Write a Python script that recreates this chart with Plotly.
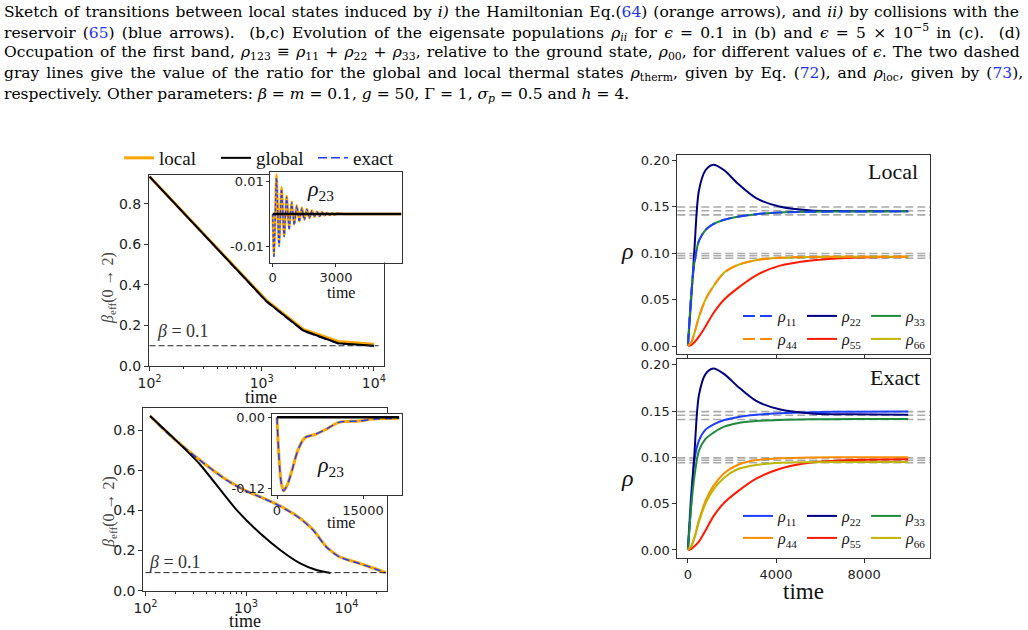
import plotly.graph_objects as go

W, H = 1028, 630

# ---------------- data ----------------
# (a, top-left) eps = 0.1 : effective inverse temperature vs time
t_a = [100, 1110, 2350, 4800, 10000]
beta_local_a = [0.935, 0.322, 0.180, 0.121, 0.107]
beta_global_a = [0.935, 0.318, 0.175, 0.112, 0.100]
beta_exact_a = [0.935, 0.315, 0.172, 0.110, 0.098]
beta_ref_t_a = [100, 11000]
beta_ref_a = [0.1, 0.1]

# inset of (a): rho23 vs time
t_in_a = [0, 60, 180, 300, 420, 540, 660, 780, 900, 1020, 1140, 1260, 1380, 1500,
          1620, 1740, 1860, 1980, 2100, 2220, 2340, 2460, 2580, 2700, 2820, 2940,
          3060, 3400, 4000, 6100]
rho23_local_a = [0, -0.0124, 0.0122, -0.0095, 0.0082, -0.0068, 0.0056, -0.0046, 0.0038,
                 -0.0032, 0.0027, -0.0023, 0.0020, -0.0017, 0.0015, -0.0013, 0.0011,
                 -0.0009, 0.0008, -0.0007, 0.0006, -0.0005, 0.0004, -0.0003, 0.00025,
                 -0.0002, 0.00015, 0.0, 0.0, 0.0]
rho23_exact_a = [0, -0.0134, 0.0110, -0.0100, 0.0076, -0.0070, 0.0052, -0.0048, 0.0035,
                 -0.0033, 0.0025, -0.0024, 0.0018, -0.0018, 0.0014, -0.0013, 0.0010,
                 -0.0009, 0.0007, -0.0007, 0.0005, -0.0005, 0.0004, -0.0003, 0.0002,
                 -0.0002, 0.00015, 0.0, 0.0, 0.0]
t_in_global_a = [0, 6100]
rho23_global_a = [0.0, 0.0]

# (b, bottom-left) eps = 5e-5
t_b = [111, 162, 347, 646, 977, 1380, 2190, 3467, 4677, 6310, 8511, 13490, 19950, 24550]
beta_local_b = [0.87, 0.790, 0.651, 0.551, 0.500, 0.468, 0.422, 0.360, 0.302, 0.219,
                0.169, 0.136, 0.107, 0.090]
beta_exact_b = [0.87, 0.788, 0.650, 0.549, 0.499, 0.467, 0.421, 0.359, 0.300, 0.217,
                0.168, 0.135, 0.106, 0.089]
t_bg = [111, 200, 347, 813, 1380, 2188, 3467, 5012, 6918]
beta_global_b = [0.87, 0.750, 0.630, 0.400, 0.286, 0.203, 0.136, 0.103, 0.088]
beta_ref_t_b = [100, 25000]
beta_ref_b = [0.09, 0.09]

# inset of (b)
t_in_b = [0, 300, 700, 1150, 1800, 2600, 3700, 4900, 6600, 8400, 10800, 14300, 16700, 21300]
rho23_local_b = [0, -0.060, -0.108, -0.124, -0.114, -0.090, -0.054, -0.034, -0.029,
                 -0.021, -0.0085, -0.0063, -0.0030, -0.0017]
rho23_exact_b = rho23_local_b
t_in_global_b = [0, 21300]
rho23_global_b = [0.0, 0.0]

# (c, right) populations rho_ii vs time
t_r = [0, 150, 300, 500, 800, 1150, 1650, 2250, 3100, 4150, 5600, 7500, 10000]
loc_rho11 = [0, 0.055, 0.090, 0.113, 0.1247, 0.131, 0.1357, 0.139, 0.1418, 0.1435, 0.1443, 0.1447, 0.1448]
loc_rho22 = [0, 0.050, 0.105, 0.167, 0.189, 0.195, 0.189, 0.175, 0.159, 0.150, 0.1458, 0.1450, 0.1448]
loc_rho33 = loc_rho11
loc_rho44 = [0, 0.004, 0.014, 0.031, 0.050, 0.064, 0.079, 0.087, 0.0923, 0.0948, 0.0958, 0.0960, 0.0960]
loc_rho55 = [0, 0.001, 0.004, 0.010, 0.021, 0.035, 0.050, 0.062, 0.076, 0.0862, 0.092, 0.095, 0.096]
loc_rho66 = loc_rho44

ex_rho11 = [0, 0.060, 0.098, 0.118, 0.130, 0.1355, 0.1404, 0.1435, 0.146, 0.1477, 0.1489, 0.1494, 0.1495]
ex_rho22 = [0, 0.050, 0.105, 0.167, 0.190, 0.196, 0.190, 0.177, 0.161, 0.152, 0.1475, 0.1465, 0.1460]
ex_rho33 = [0, 0.047, 0.080, 0.107, 0.120, 0.1265, 0.1332, 0.137, 0.1393, 0.1405, 0.1411, 0.1414, 0.1416]
ex_rho44 = [0, 0.004, 0.014, 0.032, 0.053, 0.069, 0.083, 0.0918, 0.0972, 0.0990, 0.0999, 0.1002, 0.1002]
ex_rho55 = [0, 0.001, 0.004, 0.009, 0.021, 0.036, 0.051, 0.063, 0.077, 0.0875, 0.0945, 0.0972, 0.0980]
ex_rho66 = [0, 0.004, 0.013, 0.030, 0.050, 0.065, 0.078, 0.0872, 0.0918, 0.0942, 0.0948, 0.0950, 0.0951]

thermal_levels = [0.1495, 0.1455, 0.1410, 0.0995, 0.0970, 0.0943]

log_ticks = [100, 1000, 10000]
log_ticktext = ['10<sup>2</sup>', '10<sup>3</sup>', '10<sup>4</sup>']

# ---------------- style ----------------
SERIF = "Liberation Serif"
CAPFONT = "DejaVu Serif"
SANS = "DejaVu Sans"
C_LOCAL, C_GLOBAL, C_EXACT = "#ffa500", "#000000", "#1f3fff"
C11, C22, C33 = "#1f3fff", "#00007f", "#1f8a3c"
C44, C55, C66 = "#ff8c00", "#ff1a00", "#bfb400"


def dx(a, b):
    return [a / W, b / W]


def dy(top, bottom):
    return [1 - bottom / H, 1 - top / H]


def axis(domain, size=14, **kw):
    d = dict(domain=domain, showline=True, linecolor="#333", linewidth=1, mirror=True,
             ticks="outside", ticklen=4, tickcolor="#333", showgrid=False, zeroline=False,
             tickfont=dict(family=SANS, size=size, color="#222"))
    d.update(kw)
    return d


fig = go.Figure()

# ---- top-left main (xy)
fig.add_trace(go.Scatter(x=t_a, y=beta_local_a, mode="lines", name="local", legendrank=1,
                         line=dict(color=C_LOCAL, width=3), xaxis="x", yaxis="y"))
fig.add_trace(go.Scatter(x=t_a, y=beta_exact_a, mode="lines", name="exact", legendrank=3,
                         line=dict(color=C_EXACT, width=1.5, dash="9px,4px"), xaxis="x", yaxis="y"))
fig.add_trace(go.Scatter(x=t_a, y=beta_global_a, mode="lines", name="global", legendrank=2,
                         line=dict(color=C_GLOBAL, width=2), xaxis="x", yaxis="y"))
fig.add_trace(go.Scatter(x=beta_ref_t_a, y=beta_ref_a, mode="lines", showlegend=False,
                         line=dict(color="#222", width=1, dash="6px,3px"), xaxis="x", yaxis="y"))

# ---- top-left inset (x2y2)
fig.add_trace(go.Scatter(x=t_in_a, y=rho23_local_a, mode="lines", showlegend=False,
                         line=dict(color=C_LOCAL, width=2.5, shape="spline", smoothing=0.8),
                         xaxis="x2", yaxis="y2"))
fig.add_trace(go.Scatter(x=t_in_a, y=rho23_exact_a, mode="lines", showlegend=False,
                         line=dict(color=C_EXACT, width=1.3, shape="spline", smoothing=0.8, dash="3px,2px"),
                         xaxis="x2", yaxis="y2"))
fig.add_trace(go.Scatter(x=t_in_global_a, y=rho23_global_a, mode="lines", showlegend=False,
                         line=dict(color=C_GLOBAL, width=2.5), xaxis="x2", yaxis="y2"))

# ---- bottom-left main (x3y3)
fig.add_trace(go.Scatter(x=t_b, y=beta_local_b, mode="lines", showlegend=False,
                         line=dict(color=C_LOCAL, width=3, shape="spline", smoothing=0.6),
                         xaxis="x3", yaxis="y3"))
fig.add_trace(go.Scatter(x=t_b, y=beta_exact_b, mode="lines", showlegend=False,
                         line=dict(color=C_EXACT, width=1.5, shape="spline", smoothing=0.6, dash="7px,4px"),
                         xaxis="x3", yaxis="y3"))
fig.add_trace(go.Scatter(x=t_bg, y=beta_global_b, mode="lines", showlegend=False,
                         line=dict(color=C_GLOBAL, width=2, shape="spline", smoothing=0.6),
                         xaxis="x3", yaxis="y3"))
fig.add_trace(go.Scatter(x=beta_ref_t_b, y=beta_ref_b, mode="lines", showlegend=False,
                         line=dict(color="#222", width=1, dash="6px,3px"), xaxis="x3", yaxis="y3"))

# ---- bottom-left inset (x4y4)
fig.add_trace(go.Scatter(x=t_in_b, y=rho23_local_b, mode="lines", showlegend=False,
                         line=dict(color=C_LOCAL, width=3, shape="spline", smoothing=0.8),
                         xaxis="x4", yaxis="y4"))
fig.add_trace(go.Scatter(x=t_in_b, y=rho23_exact_b, mode="lines", showlegend=False,
                         line=dict(color=C_EXACT, width=1.5, shape="spline", smoothing=0.8, dash="7px,5px"),
                         xaxis="x4", yaxis="y4"))
fig.add_trace(go.Scatter(x=t_in_global_b, y=rho23_global_b, mode="lines", showlegend=False,
                         line=dict(color=C_GLOBAL, width=2.5), xaxis="x4", yaxis="y4"))

# ---- right top: Local (x5y5)
LBL = lambda s: "<i>ρ</i><sub>%s</sub>" % s
sp = dict(shape="spline", smoothing=0.8)
fig.add_trace(go.Scatter(x=t_r, y=loc_rho22, mode="lines", name=LBL("22"), legend="legend2", legendrank=2,
                         line=dict(color=C22, width=2, **sp), xaxis="x5", yaxis="y5"))
fig.add_trace(go.Scatter(x=t_r, y=loc_rho33, mode="lines", name=LBL("33"), legend="legend2", legendrank=3,
                         line=dict(color=C33, width=2, **sp), xaxis="x5", yaxis="y5"))
fig.add_trace(go.Scatter(x=t_r, y=loc_rho11, mode="lines", name=LBL("11"), legend="legend2", legendrank=1,
                         line=dict(color=C11, width=2, dash="12px,5px", **sp), xaxis="x5", yaxis="y5"))
fig.add_trace(go.Scatter(x=t_r, y=loc_rho55, mode="lines", name=LBL("55"), legend="legend3", legendrank=5,
                         line=dict(color=C55, width=2, **sp), xaxis="x5", yaxis="y5"))
fig.add_trace(go.Scatter(x=t_r, y=loc_rho66, mode="lines", name=LBL("66"), legend="legend3", legendrank=6,
                         line=dict(color=C66, width=2, **sp), xaxis="x5", yaxis="y5"))
fig.add_trace(go.Scatter(x=t_r, y=loc_rho44, mode="lines", name=LBL("44"), legend="legend3", legendrank=4,
                         line=dict(color=C44, width=2, dash="12px,5px", **sp), xaxis="x5", yaxis="y5"))

# ---- right bottom: Exact (x6y6)
for vals, nm, col, lg, rk in [(ex_rho11, "11", C11, "legend4", 1), (ex_rho22, "22", C22, "legend4", 2),
                              (ex_rho33, "33", C33, "legend4", 3), (ex_rho44, "44", C44, "legend5", 4),
                              (ex_rho55, "55", C55, "legend5", 5), (ex_rho66, "66", C66, "legend5", 6)]:
    fig.add_trace(go.Scatter(x=t_r, y=vals, mode="lines", name=LBL(nm), legend=lg, legendrank=rk,
                             line=dict(color=col, width=2, **sp), xaxis="x6", yaxis="y6"))

# thermal reference levels (gray dashed)
shapes = []
for yr in ["y5", "y6"]:
    xr = "x5" if yr == "y5" else "x6"
    for lv in thermal_levels:
        shapes.append(dict(type="line", xref=xr + " domain", x0=0, x1=1, yref=yr, y0=lv, y1=lv,
                           line=dict(color="#aaaaaa", width=1.6, dash="8px,4px"), layer="below"))

# ---------------- layout ----------------
lay = dict(
    width=W, height=H, margin=dict(l=0, r=0, t=0, b=0),
    paper_bgcolor="white", plot_bgcolor="white", template="none",
    shapes=shapes,
    xaxis=axis(dx(149, 384), 14, type="log", range=[1.995, 4.09], tickvals=log_ticks, ticktext=log_ticktext,
               minor=dict(ticks="outside", ticklen=2, tickcolor="#333", dtick="D1"), anchor="y"),
    yaxis=axis(dy(175, 366), 14, range=[0, 0.943], tickvals=[0, 0.2, 0.4, 0.6, 0.8], tickformat=".1f", anchor="x"),
    xaxis2=axis(dx(270.3, 401.5), 13, range=[-114, 6105], tickvals=[0, 3000], anchor="y2", ticklen=3),
    yaxis2=axis(dy(172.3, 262.5), 13, range=[-0.0149, 0.0128], tickvals=[-0.01, 0.01],
                ticktext=["-0.01", "0.01"], anchor="x2", ticklen=3),
    xaxis3=axis(dx(143.3, 387.3), 14, type="log", range=[1.978, 4.406], tickvals=log_ticks, ticktext=log_ticktext,
                minor=dict(ticks="outside", ticklen=2, tickcolor="#333", dtick="D1"), anchor="y3"),
    yaxis3=axis(dy(408, 590.7), 14, range=[0, 0.91], tickvals=[0, 0.2, 0.4, 0.6, 0.8], tickformat=".1f", anchor="x3"),
    xaxis4=axis(dx(271.7, 401.7), 13, range=[-924, 21750], tickvals=[0, 15000], ticktext=["0", "15000"],
                anchor="y4", ticklen=3),
    yaxis4=axis(dy(414, 495), 13, range=[-0.131, 0.0056], tickvals=[-0.12, 0.0],
                ticktext=["-0.12", "0.00"], anchor="x4", ticklen=3),
    xaxis5=axis(dx(677.3, 930), 13, range=[-480, 10990], tickvals=[0, 4000, 8000], showticklabels=False, anchor="y5"),
    yaxis5=axis(dy(155, 354), 13, range=[-0.0086, 0.2054], tickvals=[0, 0.05, 0.10, 0.15, 0.20],
                tickformat=".2f", anchor="x5"),
    xaxis6=axis(dx(677.3, 930), 13, range=[-480, 10990], tickvals=[0, 4000, 8000], anchor="y6"),
    yaxis6=axis(dy(359.3, 558.3), 13, range=[-0.009, 0.206], tickvals=[0, 0.05, 0.10, 0.15, 0.20],
                tickformat=".2f", anchor="x6"),
)

leg_common = dict(orientation="h", bgcolor="rgba(0,0,0,0)", borderwidth=0,
                  xanchor="left", yanchor="middle", traceorder="normal")
lay["legend"] = dict(leg_common, x=119 / W, y=1 - 158 / H, font=dict(family=SERIF, size=19, color="#111"),
                     entrywidth=52)
for name, ypx in [("legend2", 316), ("legend3", 339), ("legend4", 516), ("legend5", 538)]:
    lay[name] = dict(leg_common, x=738 / W, y=1 - ypx / H, font=dict(family=SERIF, size=16, color="#111"),
                     itemwidth=30, entrywidth=19)

fig.update_layout(**lay)

# ---------------- annotations ----------------
ann = []


def text(x, y, s, size, family=SERIF, color="#111", xanchor="center", yanchor="middle", angle=0):
    ann.append(dict(x=x / W, y=1 - y / H, xref="paper", yref="paper", text=s, showarrow=False,
                    xanchor=xanchor, yanchor=yanchor, textangle=angle,
                    font=dict(family=family, size=size, color=color)))


B = lambda s: "<span style='color:#2233ee'>%s</span>" % s
caption = [
    "Sketch of transitions between local states induced by <i>i)</i> the Hamiltonian Eq.(" + B("64") +
    ") (orange arrows), and <i>ii)</i> by collisions with the",
    "reservoir (" + B("65") + ") (blue arrows).  (b,c) Evolution of the eigensate populations <i>ρ<sub>ii</sub></i> for "
    "<i>ϵ</i> = 0.1 in (b) and <i>ϵ</i> = 5 × 10<sup>−5</sup> in (c).  (d)",
    "Occupation of the first band, <i>ρ</i><sub>123</sub> ≡ <i>ρ</i><sub>11</sub> + <i>ρ</i><sub>22</sub> + "
    "<i>ρ</i><sub>33</sub>, relative to the ground state, <i>ρ</i><sub>00</sub>, for different values of <i>ϵ</i>. "
    "The two dashed",
    "gray lines give the value of the ratio for the global and local thermal states <i>ρ</i><sub>therm</sub>, "
    "given by Eq. (" + B("72") + "), and <i>ρ</i><sub>loc</sub>, given by (" + B("73") + "),",
    "respectively. Other parameters: <i>β</i> = <i>m</i> = 0.1, <i>g</i> = 50, Γ = 1, <i>σ<sub>p</sub></i> = 0.5 "
    "and <i>h</i> = 4.",
]
# extra inter-word spacing (px) to imitate the justified caption
caption_wordspacing = [1.1, 2.3, 1.25, 2.1, 0]
for i, line in enumerate(caption):
    ws = caption_wordspacing[i]
    if ws:
        line = "<span style='word-spacing:%.2fpx'>%s</span>" % (ws, line)
    text(2, 12 + 20.7 * i, line, 15.5, family=CAPFONT, xanchor="left", color="#000")

# axis labels
text(109, 288, "<i>β</i><sub>eff</sub>(0 → 2)", 16, color="#444", angle=-90)
text(109, 512, "<i>β</i><sub>eff</sub>(0 → 2)", 16, color="#444", angle=-90)
text(261, 397, "time", 18)
text(245, 621, "time", 18)
text(341, 292, "time", 16)
text(341, 522, "time", 16)
text(803, 591, "time", 23)
text(627, 251, "<i>ρ</i>", 24)
text(627, 478, "<i>ρ</i>", 24)
text(920, 172, "Local", 22, xanchor="right")
text(922, 377, "Exact", 22, xanchor="right")
text(320, 190, "<i>ρ</i><sub>23</sub>", 22)
text(330, 466, "<i>ρ</i><sub>23</sub>", 22)
text(155, 331, "<i>β</i> = 0.1", 18, color="#333", xanchor="left")
text(147, 562, "<i>β</i> = 0.1", 18, color="#333", xanchor="left")

fig.update_layout(annotations=ann)
fig.write_html("out.html")
